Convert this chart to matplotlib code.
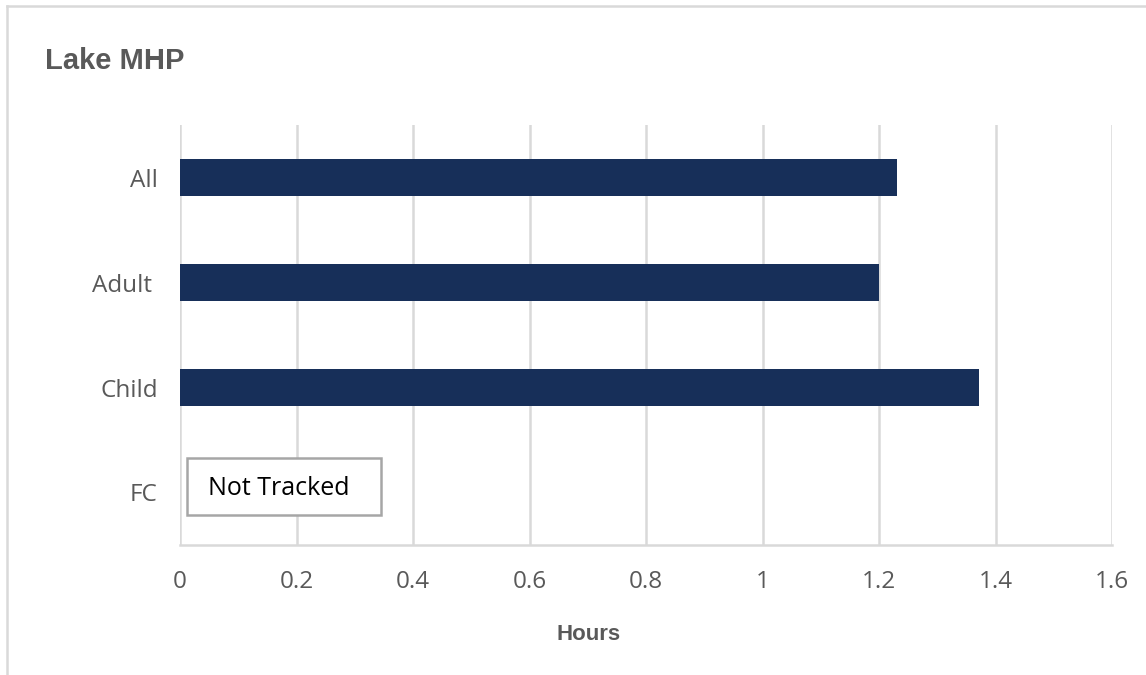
import matplotlib.pyplot as plt
from matplotlib.lines import Line2D
from matplotlib.patches import Rectangle

# Data
categories = ['All', 'Adult ', 'Child', 'FC']
hours = [1.231, 1.2, 1.371]          # FC is not tracked
x_ticks = [0, 0.2, 0.4, 0.6, 0.8, 1, 1.2, 1.4, 1.6]
x_tick_labels = ['0', '0.2', '0.4', '0.6', '0.8', '1', '1.2', '1.4', '1.6']

bar_color = '#172f59'
grid_color = '#d9d9d9'
text_gray = '#595959'

fig = plt.figure(figsize=(11.46, 6.75), dpi=100)
ax = fig.add_axes([0.1571, 0.1926, 0.8133, 0.6222])

# outer chart border (only top and left edges are visible in the crop)
fig.lines.append(Line2D([0.0061, 1.0], [0.9911, 0.9911], transform=fig.transFigure,
                        color=grid_color, linewidth=1.8))
fig.lines.append(Line2D([0.0061, 0.0061], [0.0, 0.9911], transform=fig.transFigure,
                        color=grid_color, linewidth=1.8))

ypos = list(range(len(categories)))
ax.barh(ypos[:len(hours)], hours, height=0.35, color=bar_color, zorder=3)

ax.set_xlim(0, 1.6)
ax.set_ylim(3.5, -0.5)
ax.set_xticks(x_ticks)
ax.set_xticklabels(x_tick_labels)
ax.set_yticks(ypos)
ax.set_yticklabels(categories)

for t in ax.get_xticklabels() + ax.get_yticklabels():
    t.set_fontfamily('Open Sans')
    t.set_fontsize(17.5)
    t.set_color(text_gray)

ax.tick_params(axis='x', length=0, pad=18)
ax.tick_params(axis='y', length=0, pad=16)

ax.grid(axis='x', color=grid_color, linewidth=1.8, zorder=0)
for s in ['top', 'right', 'left']:
    ax.spines[s].set_visible(False)
ax.spines['bottom'].set_color(grid_color)
ax.spines['bottom'].set_linewidth(1.8)

fig.text(589 / 1146, 1 - 635 / 675, 'Hours', fontfamily='Liberation Sans', fontweight='bold',
         fontsize=16, color=text_gray, va='center', ha='center')

fig.text(0.039, 1 - 61 / 675, 'Lake MHP', fontfamily='Liberation Sans', fontweight='bold',
         fontsize=21, color=text_gray, va='center', ha='left')

# "Not Tracked" box for FC
ax.add_patch(Rectangle((0.012, 2.667), 0.333, 0.543, facecolor='white',
                       edgecolor='#a6a6a6', linewidth=1.8, zorder=4))
ax.text(0.048, 2.96, 'Not Tracked', fontfamily='Open Sans', fontsize=18, color='black',
        va='center', ha='left', zorder=5)

fig.savefig('out.png', dpi=100, facecolor='white')
